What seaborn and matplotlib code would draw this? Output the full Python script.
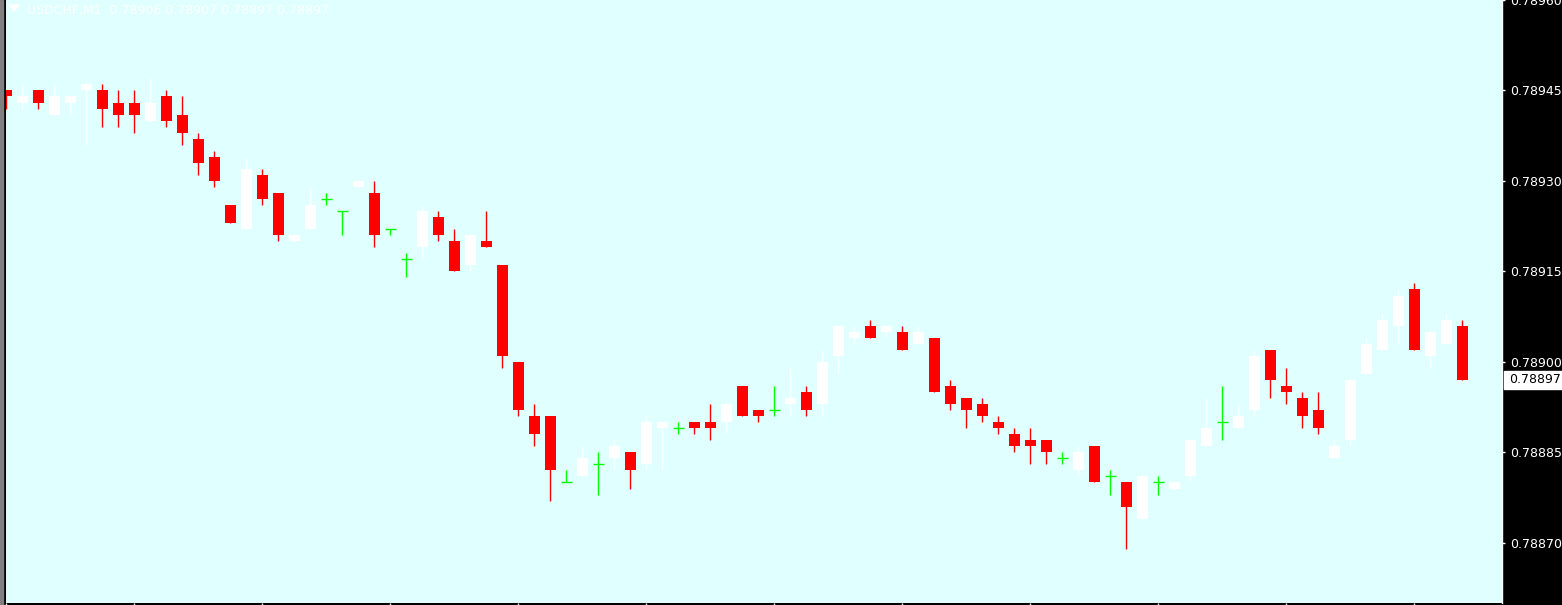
import numpy as np
import pandas as pd
import matplotlib
matplotlib.use("Agg")
import matplotlib.pyplot as plt
import seaborn as sns
from matplotlib.patches import Rectangle, Polygon
from matplotlib.transforms import blended_transform_factory

sns.set_theme(style="white")
plt.rcParams["font.family"] = ["DejaVu Sans"]

# USDCHF M1 candles (oldest -> newest)
opens = [
    0.78945, 0.78943, 0.78945, 0.78941, 0.78943, 0.78945, 0.78945, 0.78943, 0.78943, 0.78940,
    0.78944, 0.78941, 0.78937, 0.78934, 0.78926, 0.78922, 0.78931, 0.78928, 0.78920, 0.78922,
    0.78927, 0.78925, 0.78929, 0.78928, 0.78922, 0.78917, 0.78919, 0.78924, 0.78920, 0.78916,
    0.78920, 0.78916, 0.78900, 0.78891, 0.78891, 0.78880, 0.78881, 0.78883, 0.78884, 0.78885,
    0.78883, 0.78889, 0.78889, 0.78890, 0.78890, 0.78890, 0.78896, 0.78892, 0.78892, 0.78893,
    0.78895, 0.78893, 0.78901, 0.78904, 0.78906, 0.78905, 0.78905, 0.78903, 0.78904, 0.78896,
    0.78894, 0.78893, 0.78890, 0.78888, 0.78887, 0.78887, 0.78884, 0.78882, 0.78886, 0.78881,
    0.78880, 0.78874, 0.78880, 0.78879, 0.78881, 0.78886, 0.78890, 0.78889, 0.78892, 0.78902,
    0.78896, 0.78894, 0.78892, 0.78884, 0.78887, 0.78898, 0.78902, 0.78906, 0.78912, 0.78901,
    0.78903, 0.78906,
]
highs = [
    0.78945, 0.78946, 0.78945, 0.78946, 0.78944, 0.78946, 0.78946, 0.78945, 0.78945, 0.78947,
    0.78945, 0.78944, 0.78938, 0.78935, 0.78926, 0.78934, 0.78932, 0.78928, 0.78921, 0.78929,
    0.78928, 0.78925, 0.78930, 0.78930, 0.78922, 0.78918, 0.78926, 0.78925, 0.78922, 0.78921,
    0.78925, 0.78916, 0.78900, 0.78893, 0.78891, 0.78882, 0.78886, 0.78885, 0.78887, 0.78885,
    0.78891, 0.78890, 0.78890, 0.78890, 0.78893, 0.78893, 0.78896, 0.78892, 0.78896, 0.78899,
    0.78896, 0.78902, 0.78906, 0.78906, 0.78907, 0.78906, 0.78906, 0.78906, 0.78904, 0.78897,
    0.78894, 0.78894, 0.78891, 0.78889, 0.78889, 0.78887, 0.78885, 0.78886, 0.78886, 0.78882,
    0.78880, 0.78881, 0.78881, 0.78880, 0.78887, 0.78894, 0.78896, 0.78893, 0.78902, 0.78902,
    0.78899, 0.78895, 0.78895, 0.78887, 0.78897, 0.78904, 0.78908, 0.78912, 0.78913, 0.78905,
    0.78908, 0.78907,
]
lows = [
    0.78942, 0.78942, 0.78942, 0.78941, 0.78941, 0.78936, 0.78939, 0.78939, 0.78938, 0.78940,
    0.78939, 0.78936, 0.78931, 0.78929, 0.78923, 0.78922, 0.78926, 0.78920, 0.78920, 0.78922,
    0.78926, 0.78921, 0.78929, 0.78919, 0.78921, 0.78914, 0.78917, 0.78920, 0.78915, 0.78915,
    0.78919, 0.78899, 0.78891, 0.78886, 0.78877, 0.78880, 0.78881, 0.78878, 0.78882, 0.78879,
    0.78882, 0.78882, 0.78888, 0.78888, 0.78887, 0.78888, 0.78891, 0.78890, 0.78891, 0.78891,
    0.78891, 0.78891, 0.78898, 0.78903, 0.78904, 0.78904, 0.78902, 0.78903, 0.78895, 0.78892,
    0.78889, 0.78890, 0.78888, 0.78885, 0.78883, 0.78883, 0.78883, 0.78881, 0.78880, 0.78878,
    0.78869, 0.78874, 0.78878, 0.78879, 0.78880, 0.78886, 0.78887, 0.78889, 0.78891, 0.78894,
    0.78893, 0.78889, 0.78888, 0.78884, 0.78886, 0.78898, 0.78902, 0.78903, 0.78902, 0.78899,
    0.78903, 0.78897,
]
closes = [
    0.78944, 0.78944, 0.78943, 0.78944, 0.78944, 0.78946, 0.78942, 0.78941, 0.78941, 0.78943,
    0.78940, 0.78938, 0.78933, 0.78930, 0.78923, 0.78932, 0.78927, 0.78921, 0.78921, 0.78926,
    0.78927, 0.78925, 0.78930, 0.78921, 0.78922, 0.78917, 0.78925, 0.78921, 0.78915, 0.78921,
    0.78919, 0.78901, 0.78892, 0.78888, 0.78882, 0.78880, 0.78884, 0.78883, 0.78886, 0.78882,
    0.78890, 0.78890, 0.78889, 0.78889, 0.78889, 0.78893, 0.78891, 0.78891, 0.78892, 0.78894,
    0.78892, 0.78900, 0.78906, 0.78905, 0.78904, 0.78906, 0.78902, 0.78905, 0.78895, 0.78893,
    0.78892, 0.78891, 0.78889, 0.78886, 0.78886, 0.78885, 0.78884, 0.78885, 0.78880, 0.78881,
    0.78876, 0.78881, 0.78880, 0.78880, 0.78887, 0.78889, 0.78890, 0.78891, 0.78901, 0.78897,
    0.78895, 0.78891, 0.78889, 0.78886, 0.78897, 0.78903, 0.78907, 0.78911, 0.78902, 0.78905,
    0.78907, 0.78897,
]

price_ticks = [0.78870, 0.78885, 0.78900, 0.78915, 0.78930, 0.78945, 0.78960]
symbol = "USDCHF,M1"
last_price = 0.78897

BG = "#E0FFFF"
UP, DOWN, DOJI = "white", "#FF0000", "#00FF00"
W, H = 1562, 605

df = pd.DataFrame({"open": opens, "high": highs, "low": lows, "close": closes})
df["x"] = np.arange(len(df))
flat = np.isclose(df["open"], df["close"])
up = (df["close"] > df["open"]) & ~flat
down = (df["close"] < df["open"]) & ~flat

fig = plt.figure(figsize=(W / 100, H / 100), dpi=100, facecolor="black")
ax = fig.add_axes([6 / W, 2 / H, 1496 / W, 603 / H], facecolor=BG)

body_w = 0.69
wick_lw = 1.0

# wicks
for mask, col in [(up, UP), (down, DOWN), (flat, DOJI)]:
    d = df[mask]
    ax.vlines(d["x"], d["low"], d["high"], color=col, lw=wick_lw, zorder=2)

# bodies
d = df[up]
ax.bar(d["x"], d["close"] - d["open"], bottom=d["open"], width=body_w,
       color=UP, linewidth=0, zorder=3)
d = df[down]
ax.bar(d["x"], d["open"] - d["close"], bottom=d["close"], width=body_w,
       color=DOWN, linewidth=0, zorder=3)
d = df[flat]
ax.hlines(d["close"], d["x"] - body_w / 2, d["x"] + body_w / 2,
          color=DOJI, lw=wick_lw, zorder=3)

ax.set_xlim(-0.031, 93.47)
ax.set_ylim(0.7886002, 0.7895978)
ax.grid(False)

ax.set_yticks(price_ticks)
ax.set_yticklabels([f"{p:.5f}" for p in price_ticks])
ax.yaxis.tick_right()
ax.tick_params(axis="y", which="both", left=False, right=True, labelleft=False,
               labelright=True, colors="white", length=2.5, width=1, pad=3,
               labelsize=9)
ax.set_xticks(range(0, len(df), 8))
ax.set_xticklabels([])
ax.tick_params(axis="x", bottom=True, colors="white", length=3, width=1,
               direction="out")

for s in ["top", "left", "bottom"]:
    ax.spines[s].set_visible(False)
ax.spines["right"].set_color("white")
ax.spines["right"].set_linewidth(1)

# left window border
fig.add_artist(Rectangle((0, 0), 2.5 / W, 1, transform=fig.transFigure,
                         color="#808080", zorder=5))

# current price marker on the scale
tr = blended_transform_factory(fig.transFigure, ax.transData)
fig.add_artist(Rectangle((1504 / W, last_price - 1.45e-5), 58 / W, 2.9e-5,
                         transform=tr, color="white", zorder=6))
fig.text(1509 / W, last_price, f"{last_price:.5f}", transform=tr, color="black",
         fontsize=9, va="center", ha="left", zorder=7)

# header
fig.add_artist(Polygon([(9 / W, 1 - 5 / H), (19 / W, 1 - 5 / H), (14 / W, 1 - 11 / H)],
                       closed=True, transform=fig.transFigure, color="white", zorder=6))
last = df.iloc[-1]
header = (f"{symbol}  {last['open']:.5f} {last['high']:.5f} "
          f"{last['low']:.5f} {last['close']:.5f}")
fig.text(27 / W, 1 - 14 / H, header, color="white", fontsize=9, va="baseline",
         ha="left")

fig.savefig("out.png", dpi=100, facecolor="black")
